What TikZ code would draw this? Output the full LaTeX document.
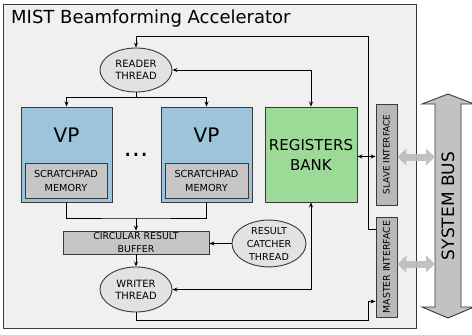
\documentclass[tikz,border=0pt]{standalone}
\usepackage{fontspec}
\setmainfont{DejaVu Sans}
\usetikzlibrary{shapes.geometric,arrows.meta,calc}
\definecolor{bgc}{HTML}{F0F0F0}
\definecolor{edge}{HTML}{3A3A3A}
\definecolor{vpc}{HTML}{9CC4DA}
\definecolor{regc}{HTML}{9DDA98}
\definecolor{memc}{HTML}{C6C6C6}
\definecolor{ellc}{HTML}{E2E2E2}
\definecolor{ifc}{HTML}{B8B8B8}
\definecolor{busc}{HTML}{C2C2C2}
\definecolor{garr}{HTML}{BBBBBB}
\begin{document}
\begin{tikzpicture}[x=1pt,y=-1pt,
  box/.style={draw=edge,line width=0.9pt,inner sep=0pt,anchor=center,align=center},
  thread/.style={ellipse,draw=edge,fill=ellc,line width=0.9pt,inner sep=0pt,align=center,font=\fontsize{10}{12}\selectfont},
  conn/.style={line width=0.8pt,black},
  arr/.style={conn,-{Stealth[length=5pt,width=4pt]}},
  arrb/.style={conn,{Stealth[length=5pt,width=4pt]}-{Stealth[length=5pt,width=4pt]}},
  busarr/.style={line width=7pt,draw=garr,opacity=0.9,{Triangle[length=9pt,width=17pt,line width=0pt]}-{Triangle[length=9pt,width=17pt,line width=0pt]}},
]
\useasboundingbox (0,0) rectangle (472,335);
% outer box
\draw[draw=edge,fill=bgc,line width=0.9pt] (3,4) rectangle (416,328);
\node[anchor=base west,inner sep=0pt,font=\fontsize{18}{20}\selectfont] (title) at (11,23.5) {MIST Beamforming Accelerator};

% threads
\node[thread,minimum width=72pt,minimum height=44pt] (reader) at (136,70) {READER\\THREAD};
\node[thread,minimum width=72pt,minimum height=45pt] (writer) at (136,289.5) {WRITER\\THREAD};
\node[thread,minimum width=74pt,minimum height=43pt,font=\fontsize{9.6}{13}\selectfont] (catcher) at (269,243.5) {RESULT\\CATCHER\\THREAD};

% VPs
\node[box,fill=vpc,minimum width=91pt,minimum height=95pt] (vp1) at (66.5,154.5) {};
\node[box,fill=vpc,minimum width=91pt,minimum height=95pt] (vp2) at (206.5,154.5) {};
\node[font=\fontsize{20}{22}\selectfont,inner sep=0pt] (vp1t) at (66.5,135) {VP};
\node[font=\fontsize{20}{22}\selectfont,inner sep=0pt] (vp2t) at (206.5,135) {VP};
\node[box,fill=memc,minimum width=82pt,minimum height=35pt,font=\fontsize{9.7}{14}\selectfont] (mem1) at (66,180.5) {SCRATCHPAD\\MEMORY};
\node[box,fill=memc,minimum width=83pt,minimum height=35pt,font=\fontsize{9.7}{14}\selectfont] (mem2) at (206.5,180.5) {SCRATCHPAD\\MEMORY};
\node[anchor=base,inner sep=0pt,font=\fontsize{26}{28}\selectfont] (dots) at (136,156) {...};

% buffer
\node[box,fill=memc,minimum width=146pt,minimum height=23pt,font=\fontsize{9.4}{13}\selectfont] (buf) at (136,242.5) {CIRCULAR RESULT\\BUFFER};

% registers
\node[box,fill=regc,minimum width=92pt,minimum height=95pt,font=\fontsize{15}{20}\selectfont] (bank) at (311,154.5) {REGISTERS\\BANK};

% interfaces
\node[box,fill=ifc,minimum width=21pt,minimum height=101pt] (slave) at (386.5,154.5) {};
\node[box,fill=ifc,minimum width=21pt,minimum height=100pt] (master) at (386.5,267) {};
\node[rotate=90,inner sep=0pt,font=\fontsize{8.9}{10}\selectfont] (slavet) at (slave.center) {SLAVE INTERFACE};
\node[rotate=90,inner sep=0pt,font=\fontsize{9.3}{10}\selectfont] (mastert) at (master.center) {MASTER INTERFACE};

% system bus
\draw[draw=edge,fill=busc,line width=0.9pt] (448,94) -- (474,104) -- (461,104) -- (461,307) -- (474,307) -- (448,318) -- (422,307) -- (435,307) -- (435,104) -- (422,104) -- cycle;
\coordinate (busL) at (435,206);
\node[rotate=90,inner sep=0pt,font=\fontsize{17}{20}\selectfont] (bus) at (448,206) {SYSTEM BUS};

% connectors
\coordinate (topr) at (368,36);
\draw[arr] ([yshift=-13pt]master.north west) -| (topr) -| (reader.north);
\draw[arrb] (reader.east) -| (bank.north);
\draw[arrb] (writer.east) -| (bank.south);
\coordinate (rj) at (136,97);
\draw[conn] (reader.south) -- (rj);
\draw[arr] (rj) -| (vp1.north);
\draw[arr] (rj) -| (vp2.north);
\coordinate (bj) at (136,218);
\draw[conn] (vp1.south) |- (bj) -| (vp2.south);
\draw[arr] (bj) -- (buf.north);
\draw[arr] (buf.south) -- (writer.north);
\draw[arr] (catcher.west) -- (catcher.west -| buf.east);
\coordinate (wb) at (368,320);
\draw[arr] (writer.south) |- (wb) |- ([yshift=16pt]master.south west);
\draw[arrb] ([yshift=-2pt]bank.east) -- ([yshift=-2pt]bank.east -| slave.west);

% bus arrows
\draw[busarr] ([yshift=-2.5pt]slave.east) -- ([yshift=-2.5pt]slave.east -| busL);
\draw[busarr] ([yshift=3pt]master.east) -- ([yshift=3pt]master.east -| busL);
\end{tikzpicture}
\end{document}
